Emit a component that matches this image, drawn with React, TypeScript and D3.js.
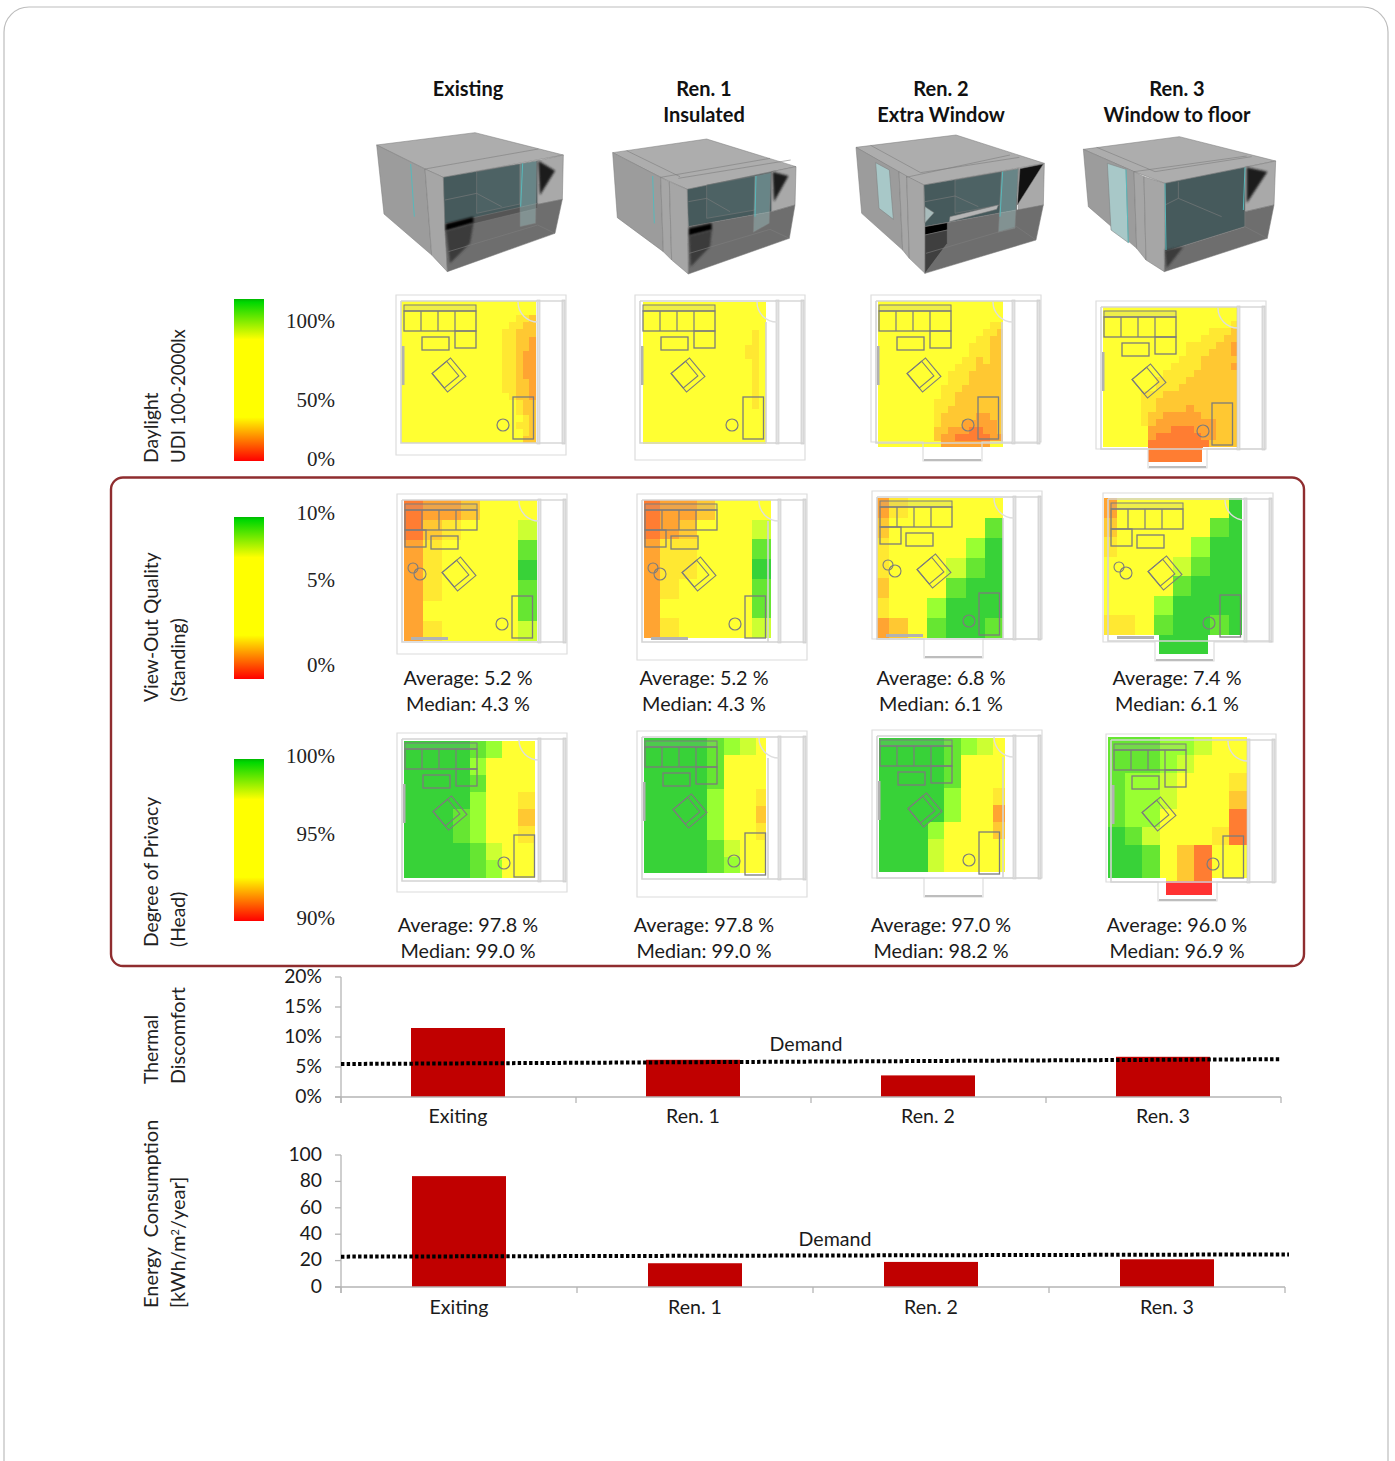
import React from "react";
import * as d3 from "d3";

const SANS = "Lato, Carlito, sans-serif";
const SERIF = "'Liberation Serif', serif";

// ---- text data
const columnCentres = [468, 704, 941, 1177];
const headers = [["", "Existing"], ["Ren. 1", "Insulated"], ["Ren. 2", "Extra Window"], ["Ren. 3", "Window to floor"]];
const viewAverages = ["5.2", "5.2", "6.8", "7.4"];
const viewMedians = ["4.3", "4.3", "6.1", "6.1"];
const privacyAverages = ["97.8", "97.8", "97.0", "96.0"];
const privacyMedians = ["99.0", "99.0", "98.2", "96.9"];

// ---- bar data
const barCategories = ["Exiting", "Ren. 1", "Ren. 2", "Ren. 3"];
const thermalValues = [11.5, 6.2, 3.6, 6.7];
const thermalDemand = [5.5, 6.3];
const thermalTicks = [0, 5, 10, 15, 20];
const energyValues = [84, 18, 19, 21];
const energyDemand = [23, 24.7];
const energyTicks = [0, 20, 40, 60, 80, 100];

// ---- heat-map levels: 0 red, 5 yellow, 9 green, "." no cell
const dayExisting = [
"55555555555555555555","55555555555555555555","55555555555555555443","55555555555555554433",
"55555555555555544333","55555555555555544332","55555555555555544332","55555555555555544322",
"55555555555555544322","55555555555555544322","55555555555555544322","55555555555555544332",
"55555555555555544332","55555555555555554332","55555555555555555433","55555555555555555433",
"55555555555555555543","55555555555555555443","55555555555555555543","55555555555555555533"];
const dayRen1 = [
"555555555555555555","555555555555555555","555555555555555555","555555555555555555",
"555555555555555545","555555555555555545","555555555555555445","555555555555555445",
"555555555555555545","555555555555555545","555555555555555545","555555555555555545",
"555555555555555545","555555555555555545","555555555555555545","555555555555555555",
"555555555555555555","555555555555555555","555555555555555555","555555555555555555"];
const dayRen2 = [
"555555555555555555","555555555555555555","555555555555555555","555555555555555544",
"555555555555555443","555555555555554433","555555555555544433","555555555555544433",
"555555555555443433","555555555554443333","555555555544433333","555555555544433333",
"555555555444333333","555555555443333333","555555554443333333","555555554433333333",
"555555554333332233","555555554333222223","555555553322211223","555555553221111122",
"555555555222222255"];
const dayRen3 = [
"555555555555555555","555555555555555555","555555555555555554","555555555555554443",
"555555555555544433","555555555554444332","555555555554443332","555555555544433333",
"555555555444433332","555555554444333333","555555544443333333","555555544433333333",
"555554443333333333","555554433333333333","555554433332333333","555554332222233333",
"555554322222222333","555555222111222333","555555211111122333","555555111111113333",
"......1111111.....","......1111111....."];
const viewExisting = ["1223555","1345556","2455558","2455559","2455558","2555558","2455556"];
const viewRen1 = ["1223555","1235556","2445558","2445559","2455558","2555558","2455556"];
const viewRen2 = ["2455555","3555558","4555579","4555689","3555899","4557999","2358998"];
const viewRen3 = ["25555559","35555589","45555799","55556899","55558999","55579999","44589989","...999.."];
const privExisting = ["99998755","99997555","99998555","99997554","99987553","99987554","99998655","99998755"];
const privRen1 = ["99998765","99998555","99998555","99997554","99997553","99997554","99998655","99998755"];
const privRen2 = ["99998765","99998555","99998555","99997554","99997552","99975553","99965555","99965555"];
const privRen3 = ["88877655","88876555","87765554","87765553","87755551","98655541","99853155","99853155","...000.."];

const levelColour = d3.scaleLinear<string>()
  .domain([0, 1, 2, 3, 4, 5, 6, 7, 8, 9])
  .range(["#ff3333", "#ff7d33", "#ffa433", "#ffc833", "#ffe833", "#ffff33", "#ccff33", "#99ff33", "#66e633", "#38d238"]);

type Rect = [number, number, number, number];
type Panel = { id: string; grid: string[]; x0: number; y0: number; w: number; h: number; clip: Rect[];
  ox: number; oy: number; oh: number; layout: "A" | "B"; bedDx: number; circleDx: number; bump: boolean };

const panels: Panel[] = [
  { id: "d1", grid: dayExisting, x0: 401, y0: 301, w: 6.75, h: 7.1, clip: [[401, 301, 135, 142]], ox: 396, oy: 295, oh: 160, layout: "A", bedDx: 117, circleDx: 107, bump: false },
  { id: "d2", grid: dayRen1, x0: 643, y0: 302, w: 6.83, h: 7.1, clip: [[643, 302, 123, 142]], ox: 635, oy: 295, oh: 165, layout: "A", bedDx: 108, circleDx: 97, bump: false },
  { id: "d3", grid: dayRen2, x0: 878, y0: 301, w: 7, h: 7, clip: [[878, 301, 125, 146]], ox: 871, oy: 295, oh: 166, layout: "A", bedDx: 107, circleDx: 97, bump: true },
  { id: "d4", grid: dayRen3, x0: 1103, y0: 307, w: 7.55, h: 7, clip: [[1103, 307, 136, 140], [1148, 447, 55, 16]], ox: 1096, oy: 301, oh: 167, layout: "A", bedDx: 116, circleDx: 107, bump: true },
  { id: "v1", grid: viewExisting, x0: 404, y0: 500, w: 19, h: 20.1, clip: [[404, 500, 133, 141]], ox: 397, oy: 494, oh: 160, layout: "B", bedDx: 115, circleDx: 105, bump: false },
  { id: "v2", grid: viewRen1, x0: 642, y0: 500, w: 18.3, h: 19.7, clip: [[644, 500, 127, 138]], ox: 637, oy: 494, oh: 166, layout: "B", bedDx: 108, circleDx: 98, bump: false },
  { id: "v3", grid: viewRen2, x0: 870, y0: 498, w: 19.1, h: 20, clip: [[877, 498, 126, 140]], ox: 872, oy: 491, oh: 167, layout: "B", bedDx: 107, circleDx: 97, bump: true },
  { id: "v4", grid: viewRen3, x0: 1098, y0: 498, w: 18.67, h: 19.5, clip: [[1104, 498, 138, 137], [1159, 635, 49, 19]], ox: 1103, oy: 493, oh: 168, layout: "B", bedDx: 117, circleDx: 106, bump: true },
  { id: "p1", grid: privExisting, x0: 404.3, y0: 740.7, w: 16.3, h: 17.1, clip: [[404, 741, 131, 137]], ox: 397, oy: 733, oh: 159, layout: "A", bedDx: 117, circleDx: 107, bump: false },
  { id: "p2", grid: privRen1, x0: 642, y0: 737.7, w: 16.3, h: 17, clip: [[644, 738, 122, 135]], ox: 637, oy: 731, oh: 166, layout: "A", bedDx: 108, circleDx: 97, bump: false },
  { id: "p3", grid: privRen2, x0: 879, y0: 738, w: 16.3, h: 16.8, clip: [[879, 738, 126, 134]], ox: 872, oy: 730, oh: 167, layout: "A", bedDx: 107, circleDx: 97, bump: true },
  { id: "p4", grid: privRen3, x0: 1107.7, y0: 737, w: 17.33, h: 18, clip: [[1107, 736, 140, 142], [1166, 878, 46, 17]], ox: 1106, oy: 734, oh: 167, layout: "A", bedDx: 117, circleDx: 107, bump: true },
];

// ---- the four isometric room sketches, in the 3x crop coordinates they were read from
type Poly = { p: number[]; f: string; b?: boolean };
const room1: Poly[] = [
  { p: [20,225,315,188,580,255,220,322,165,297], f: "#adadad" },
  { p: [20,225,165,297,185,555,42,432], f: "#9c9c9c" },
  { p: [165,297,220,322,232,605,185,555], f: "#a6a6a6" },
  { p: [220,322,503,272,503,403,225,480], f: "#465a5c" },
  { p: [320,305,450,282,450,402,320,430], f: "#4d6264" },
  { p: [503,272,580,255,577,388,503,403], f: "#a9a9a9" },
  { p: [225,480,503,403,577,388,555,490,232,605], f: "#6e6e6e" },
  { p: [225,462,503,400,503,415,225,482], f: "#555" },
  { p: [505,272,555,302,510,375], f: "#1c1c1c", b: true },
  { p: [228,462,310,440,310,458,228,482], f: "#000", b: true },
  { p: [228,482,310,460,300,520,240,580], f: "#3a3a3a", b: true },
  { p: [450,282,500,272,497,460,450,470], f: "rgba(170,215,215,.35)" },
];
const room2: Poly[] = [
  { p: [728,248,1010,207,1278,290,952,358,872,322], f: "#adadad" },
  { p: [728,248,872,322,880,545,742,443], f: "#9c9c9c" },
  { p: [872,322,898,335,905,570,880,545], f: "#a6a6a6" },
  { p: [898,335,952,358,955,612,905,570], f: "#a6a6a6" },
  { p: [952,358,1205,305,1205,425,955,470], f: "#465a5c" },
  { p: [1010,345,1155,318,1155,420,1010,445], f: "#4d6264" },
  { p: [1205,305,1278,290,1275,405,1205,425], f: "#a9a9a9" },
  { p: [955,470,1205,425,1275,405,1258,505,955,612], f: "#6e6e6e" },
  { p: [1208,305,1255,318,1212,395], f: "#1c1c1c", b: true },
  { p: [957,475,1025,460,1025,480,957,497], f: "#000", b: true },
  { p: [957,497,1025,480,1020,530,962,590], f: "#3a3a3a", b: true },
  { p: [1155,318,1203,308,1198,460,1150,487], f: "rgba(170,215,215,.35)" },
];
const room3: Poly[] = [
  { p: [78,232,378,195,643,280,282,345,228,320], f: "#adadad" },
  { p: [78,232,207,305,218,540,95,430], f: "#9c9c9c" },
  { p: [207,305,230,318,238,565,218,540], f: "#a6a6a6" },
  { p: [230,318,282,345,285,610,238,565], f: "#a6a6a6" },
  { p: [282,345,565,296,560,420,285,470], f: "#465a5c" },
  { p: [375,330,515,305,510,405,375,430], f: "#4d6264" },
  { p: [565,296,643,280,640,405,565,425], f: "#a9a9a9" },
  { p: [285,470,560,420,640,405,618,510,285,610], f: "#6e6e6e" },
  { p: [570,296,640,282,562,405], f: "#111" },
  { p: [285,470,352,458,352,480,285,495], f: "#000" },
  { p: [285,495,352,480,352,520,285,610], f: "#3f3f3f" },
  { p: [358,455,500,418,505,405,360,440], f: "#b5b5b5" },
  { p: [285,410,312,428,285,458], f: "#a8bcbc" },
  { p: [515,305,565,296,555,475,505,487], f: "rgba(170,215,215,.35)" },
  { p: [137,278,178,300,190,448,147,415], f: "#a8c8c8" },
];
const room4: Poly[] = [
  { p: [760,238,1048,200,1337,273,1005,340,912,305], f: "#adadad" },
  { p: [760,238,912,305,920,535,775,410], f: "#9c9c9c" },
  { p: [912,305,942,320,948,570,920,535], f: "#a6a6a6" },
  { p: [942,320,1005,340,1003,605,948,570], f: "#a6a6a6" },
  { p: [1005,340,1245,292,1245,470,1005,545], f: "#465a5c" },
  { p: [1245,292,1337,273,1332,405,1245,425], f: "#a9a9a9" },
  { p: [1005,545,1245,470,1245,425,1332,405,1312,505,1003,605], f: "#6e6e6e" },
  { p: [1250,292,1312,305,1250,400], f: "#1c1c1c", b: true },
  { p: [1005,540,1060,530,1010,595], f: "#3a3a3a", b: true },
  { p: [832,280,888,298,895,518,843,480], f: "#a8c8c8" },
];
const rooms = [
  { polys: room1, ox: 370, teal: [[122, 282, 133, 440], [458, 280, 452, 410]],
    lines: [[165, 297, 505, 237], [235, 545, 503, 465], [503, 465, 555, 490], [225, 390, 320, 370], [320, 370, 395, 410]] },
  { polys: room2, ox: 370, teal: [[848, 318, 853, 460], [1158, 318, 1155, 440]],
    lines: [[770, 242, 930, 320], [872, 322, 1200, 265], [925, 325, 1262, 270], [958, 550, 1200, 478], [1200, 478, 1258, 505], [955, 395, 1010, 385], [1010, 385, 1080, 425]] },
  { polys: room3, ox: 830, teal: [[518, 305, 510, 440]],
    lines: [[122, 226, 272, 308], [228, 322, 540, 255], [272, 308, 568, 262], [288, 550, 560, 470], [560, 470, 618, 510], [285, 395, 375, 378], [375, 378, 445, 410]] },
  { polys: room4, ox: 830, teal: [[1005, 340, 1008, 540], [1245, 292, 1240, 420], [888, 298, 895, 518]],
    lines: [[800, 232, 975, 305], [912, 305, 1250, 258], [975, 305, 1265, 260], [1005, 405, 1045, 385], [1045, 385, 1175, 440], [1045, 335, 1045, 385], [1245, 470, 1312, 505]] },
];

// ---- colour bars and their tick labels
const colourBars = [
  { y: 299, ticks: [["100%", 328], ["50%", 407], ["0%", 466]] },
  { y: 517, ticks: [["10%", 520], ["5%", 587], ["0%", 672]] },
  { y: 759, ticks: [["100%", 763], ["95%", 841], ["90%", 925]] },
];
const sideLabels = [
  { lines: ["Daylight", "UDI 100-2000lx"], y: 463, s: [19.3, 18.6] },
  { lines: ["View-Out Quality", "(Standing)"], y: 702, s: [19.3, 19.3] },
  { lines: ["Degree of Privacy", "(Head)"], y: 947, s: [19.3, 19.3] },
  { lines: ["Thermal", "Discomfort"], y: 1084, s: [19.3, 19.8] },
];

function FloorPlan({ c }: { c: Panel }) {
  const line = "#7c7c7c";
  const wall = "#d4d4d4";
  const sofaRight = c.layout === "A";
  const sofaX = 8;
  const tableX = sofaRight ? 26 : 34;
  const chairX = sofaRight ? 53 : 62;
  const innerRight = c.bedDx < 110 ? 131 : 142;
  return (
    <g transform={`translate(${c.ox},${c.oy})`} fill="none">
      <path d={c.bump
        ? `M0,0H170V${c.oh - 19}H111V${c.oh}H52V${c.oh - 19}H0Z`
        : `M0,0H170V${c.oh}H0Z`} stroke="#dcdcdc" strokeWidth={1.2} />
      {c.bump && <line x1={53} x2={110} y1={c.oh - 1} y2={c.oh - 1} stroke="#bdbdbd" strokeWidth={2} />}
      <path d={`M5,6H142M142,148H5V6M${innerRight},27V148`} stroke={wall} strokeWidth={1.6} />
      <rect x={141} y={5} width={3} height={144} fill="#e2e2e2" stroke="#c8c8c8" strokeWidth={0.6} />
      <rect x={166} y={5} width={3} height={144} fill="#e2e2e2" stroke="#c0c0c0" strokeWidth={0.6} />
      <line x1={142} x2={168} y1={6} y2={6} stroke={wall} strokeWidth={1.4} />
      <line x1={142} x2={168} y1={148} y2={148} stroke={wall} strokeWidth={1.4} />
      <path d="M122,7A20,20 0 0 0 142,27" stroke="#dedede" strokeWidth={1.4} />
      {/* sofa */}
      <rect x={sofaX} y={10} width={72} height={6} stroke={line} strokeWidth={1} fill="#a8a8a8" fillOpacity={0.2} />
      <rect x={sofaX} y={16} width={72} height={20} stroke={line} strokeWidth={1.3} />
      {[17, 34, 51].map((d) => <line key={d} x1={sofaX + d} x2={sofaX + d} y1={16} y2={36} stroke={line} strokeWidth={1.2} />)}
      <rect x={sofaRight ? sofaX + 51 : sofaX} y={36} width={21} height={17} stroke={line} strokeWidth={1.3} />
      {/* table, chair */}
      <rect x={tableX} y={42} width={27} height={13} stroke={line} strokeWidth={1.3} />
      <g transform={`translate(${chairX},80) rotate(-40)`} stroke={line} strokeWidth={1.1}>
        <rect x={-12} y={-12} width={24} height={24} />
        <rect x={-12} y={-12} width={19} height={19} />
      </g>
      {/* side table, bed */}
      <circle cx={c.circleDx} cy={130} r={6} stroke={line} strokeWidth={1.2} />
      <rect x={c.bedDx} y={102} width={20.5} height={42} stroke={line} strokeWidth={1.3} />
      {c.layout === "A"
        ? <rect x={6} y={51} width={2.5} height={39} fill="#b2b2b2" />
        : <>
            <rect x={14} y={143} width={37} height={3} fill="#b2b2b2" />
            <circle cx={16} cy={74} r={5} stroke={line} strokeWidth={1.1} />
            <circle cx={23} cy={80} r={6} stroke={line} strokeWidth={1.1} />
          </>}
    </g>
  );
}

function HeatCells({ c }: { c: Panel }) {
  const cols = c.grid[0].length;
  const x = d3.scaleBand<number>().domain(d3.range(cols)).range([c.x0, c.x0 + cols * c.w]);
  const y = d3.scaleBand<number>().domain(d3.range(c.grid.length)).range([c.y0, c.y0 + c.grid.length * c.h]);
  return (
    <>
      <clipPath id={`clip-${c.id}`}>
        {c.clip.map((r, i) => <rect key={i} x={r[0]} y={r[1]} width={r[2]} height={r[3]} />)}
      </clipPath>
      <g clipPath={`url(#clip-${c.id})`} shapeRendering="crispEdges">
        {c.grid.flatMap((row, j) => row.split("").map((ch, i) => ch === "." ? null :
          <rect key={`${i}-${j}`} x={x(i)} y={y(j)} width={x.bandwidth() + 0.5} height={y.bandwidth() + 0.5} fill={levelColour(+ch)} />))}
      </g>
    </>
  );
}

function BarChart({ values, demand, ticks, yMax, left, right, top, bottom, barW, barDx, demandX2, demandLabelX, labelY, fmt }: any) {
  const y = d3.scaleLinear().domain([0, yMax]).range([bottom, top]);
  const x = d3.scaleBand<string>().domain(barCategories).range([left, right]);
  const demandX = d3.scaleLinear().domain([0, 1]).range([left, demandX2]);
  const demandPath = d3.line<number>().x((_, i) => demandX(i)).y((d) => y(d))(demand) as string;
  const gridTicks = d3.range(barCategories.length + 1).map((i) => left + i * x.bandwidth());
  return (
    <g>
      {values.map((v: number, i: number) => (
        <rect key={i} x={(x(barCategories[i]) as number) + barDx} width={barW} y={y(v)} height={bottom - y(v)} fill="#c00000" />
      ))}
      <line x1={left} x2={left} y1={top} y2={bottom + 6} stroke="#b5b5b5" strokeWidth={1.3} />
      <line x1={left - 6} x2={right} y1={bottom} y2={bottom} stroke="#b5b5b5" strokeWidth={1.3} />
      {ticks.map((t: number) => (
        <g key={t}>
          <line x1={left - 6} x2={left} y1={y(t)} y2={y(t)} stroke="#b5b5b5" strokeWidth={1.3} />
          <text x={322} y={y(t) + 5.8} textAnchor="end" fontSize={19.3} fontFamily={SANS} fill="#1a1a1a">{fmt(t)}</text>
        </g>
      ))}
      {gridTicks.map((t) => <line key={t} x1={t} x2={t} y1={bottom} y2={bottom + 6} stroke="#b5b5b5" strokeWidth={1.3} />)}
      {barCategories.map((c) => (
        <text key={c} x={(x(c) as number) + barDx + barW / 2} y={labelY} textAnchor="middle" fontSize={19.6} fontFamily={SANS} fill="#1a1a1a">{c}</text>
      ))}
      <path d={demandPath} fill="none" stroke="#000" strokeWidth={4} strokeDasharray="3.4 2.3" />
      <text x={demandLabelX} y={y(demand[1]) - 8.5} textAnchor="middle" fontSize={19.6} fontFamily={SANS} fill="#1a1a1a">Demand</text>
    </g>
  );
}

export default function App() {
  return (
    <svg width={1395} height={1461} viewBox="0 0 1395 1461" style={{ position: "absolute", left: 0, top: 0, background: "#fff" }}>
      <defs>
        <linearGradient id="bar" x1="0" x2="0" y1="0" y2="1">
          <stop offset="0" stopColor="#00b800" />
          <stop offset="0.02" stopColor="#00d800" />
          <stop offset="0.25" stopColor="#ffff00" />
          <stop offset="0.73" stopColor="#ffff00" />
          <stop offset="1" stopColor="#ff0000" />
        </linearGradient>
        <filter id="soft" x="-30%" y="-30%" width="160%" height="160%"><feGaussianBlur stdDeviation="3" /></filter>
        <filter id="plan" x="-5%" y="-5%" width="110%" height="110%"><feGaussianBlur stdDeviation="0.45" /></filter>
      </defs>
      <path d="M4,1470V32A25,25 0 0 1 29,7H1363A25,25 0 0 1 1388,32V1470" fill="none" stroke="#bdbdbd" strokeWidth={1.2} />
      <rect x={111} y={477.5} width={1193} height={488.5} rx={12} fill="none" stroke="#8f2d2f" strokeWidth={2.4} />

      {headers.map((h, i) => (
        <g key={i} fontFamily={SANS} fontWeight={700} fontSize={20} textAnchor="middle" fill="#111">
          {h[0] && <text x={columnCentres[i]} y={96}>{h[0]}</text>}
          <text x={columnCentres[i]} y={h[0] ? 122 : 96}>{h[1]}</text>
        </g>
      ))}

      {rooms.map((r, i) => (
        <g key={i} transform={`translate(${r.ox},70) scale(${1 / 3})`}>
          {r.polys.map((q, j) => (
            <polygon key={j} points={q.p.join(",")} fill={q.f} stroke={q.b ? "none" : "#7d7d7d"} strokeWidth={q.b ? 0 : 1.6} filter={q.b ? "url(#soft)" : undefined} />
          ))}
          {r.lines.map((t, j) => <line key={j} x1={t[0]} y1={t[1]} x2={t[2]} y2={t[3]} stroke="#7d7d7d" strokeWidth={1.8} />)}
          {r.teal.map((t, j) => <line key={j} x1={t[0]} y1={t[1]} x2={t[2]} y2={t[3]} stroke="#58b9bb" strokeWidth={3} />)}
        </g>
      ))}

      {panels.map((c) => (
        <g key={c.id} filter="url(#plan)">
          <HeatCells c={c} />
          <FloorPlan c={c} />
        </g>
      ))}

      {colourBars.map((b, i) => (
        <g key={i}>
          <rect x={234} y={b.y} width={30} height={162} fill="url(#bar)" />
          {b.ticks.map((t) => (
            <text key={t[0]} x={335} y={(t[1] as number) - 0.5} textAnchor="end" fontFamily={SERIF} fontSize={21} fill="#222">{t[0]}</text>
          ))}
        </g>
      ))}

      {sideLabels.map((s) => (
        <g key={s.y} fontFamily={SANS} fill="#222">
          <text transform={`translate(158,${s.y}) rotate(-90)`} fontSize={s.s[0]}>{s.lines[0]}</text>
          <text transform={`translate(185,${s.y}) rotate(-90)`} fontSize={s.s[1]}>{s.lines[1]}</text>
        </g>
      ))}
      <g fontFamily={SANS} fill="#222">
        <text transform="translate(158,1308) rotate(-90)" fontSize={20}>{"Energy\u00a0\u00a0Consumption"}</text>
        <text transform="translate(185,1308) rotate(-90)" fontSize={20}>[kWh/m<tspan dy={-6} fontSize={11}>2</tspan><tspan dy={6}>/year]</tspan></text>
      </g>

      {columnCentres.map((cx, i) => (
        <g key={i} fontFamily={SANS} fontSize={19.8} fill="#1a1a1a" textAnchor="middle">
          <text x={cx} y={685}>Average: {viewAverages[i]} %</text>
          <text x={cx} y={711}>Median: {viewMedians[i]} %</text>
          <text x={cx} y={932}>Average: {privacyAverages[i]} %</text>
          <text x={cx} y={958}>Median: {privacyMedians[i]} %</text>
        </g>
      ))}

      <BarChart values={thermalValues} demand={thermalDemand} ticks={thermalTicks} yMax={20} left={341} right={1281} top={977} bottom={1097}
        barW={94} barDx={70} demandX2={1281} demandLabelX={806} labelY={1123} fmt={(t: number) => `${t}%`} />
      <BarChart values={energyValues} demand={energyDemand} ticks={energyTicks} yMax={100} left={341} right={1285} top={1155} bottom={1287}
        barW={94} barDx={71} demandX2={1289} demandLabelX={835} labelY={1314} fmt={(t: number) => `${t}`} />
    </svg>
  );
}
